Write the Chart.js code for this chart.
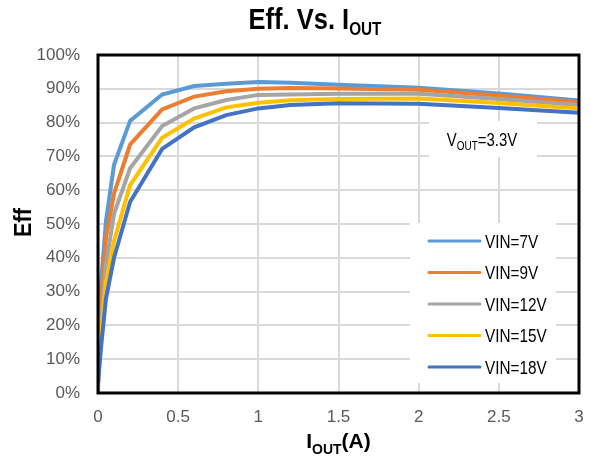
<!DOCTYPE html>
<html>
<head>
<meta charset="utf-8">
<script src="https://cdn.jsdelivr.net/npm/chart.js@4.4.1/dist/chart.umd.min.js"></script>
<style>
  html, body { margin: 0; padding: 0; background: #fff; }
  #wrap { width: 591px; height: 464px; position: relative; }
</style>
</head>
<body>
<div id="wrap"><canvas id="effChart" width="591" height="464"></canvas></div>
<script>
// dòng điện ra (A)
const iout = [0, 0.02, 0.05, 0.1, 0.2, 0.4, 0.6, 0.8, 1.0, 1.2, 1.5, 2.0, 2.5, 3.0];
// hiệu suất (%) theo từng VIN
const vin7 = [15, 33, 51, 67.5, 80.5, 88.3, 90.8, 91.5, 92, 91.8, 91.2, 90.3, 88.6, 86.5];
const vin9 = [10, 28, 46, 59, 73.5, 83.9, 87.7, 89.3, 90, 90.2, 90.1, 89.7, 88, 86];
const vin12 = [0, 22, 38, 53, 66.5, 79, 84.2, 86.7, 88.2, 88.3, 88.5, 88.5, 87, 85.2];
const vin15 = [5, 18, 33, 45, 61.5, 75.5, 81.2, 84.5, 85.9, 86.6, 87, 87.1, 85.8, 84.2];
const vin18 = [3, 14, 28, 40, 56.5, 72.2, 78.6, 82.2, 84.2, 85.2, 85.7, 85.6, 84.3, 82.9];
const seriesNames = ["VIN=7V", "VIN=9V", "VIN=12V", "VIN=15V", "VIN=18V"];
const seriesColors = ["#5B9BD5", "#ED7D31", "#A5A5A5", "#FFC000", "#4472C4"];
const xTicks = [0, 0.5, 1, 1.5, 2, 2.5, 3];

const SANS = '"Liberation Sans", Arial, sans-serif';

// ghép x và y thành điểm
function toPoints(ys) {
  return iout.map((x, i) => ({ x: x, y: ys[i] }));
}

// vẽ chữ có chỉ số dưới (I_OUT, V_OUT), sx = co chữ theo chiều ngang
function drawSub(ctx, parts, x, y, align, sx) {
  sx = sx || 1;
  let total = 0;
  parts.forEach(p => { ctx.font = p.font; total += ctx.measureText(p.t).width; });
  ctx.save();
  ctx.translate(align === "center" ? x - total * sx / 2 : x, y);
  ctx.scale(sx, 1);
  ctx.textAlign = "left";
  ctx.textBaseline = "alphabetic";
  let cx = 0;
  parts.forEach(p => {
    ctx.font = p.font;
    ctx.fillText(p.t, cx, p.dy || 0);
    cx += ctx.measureText(p.t).width;
  });
  ctx.restore();
}

const decorPlugin = {
  id: "decor",
  beforeDatasetsDraw(chart) {
    const ctx = chart.ctx;
    ctx.save();
    // hộp ghi chú VOUT
    ctx.fillStyle = "#fff";
    ctx.fillRect(429, 121, 108, 36);
    ctx.fillStyle = "#000";
    drawSub(ctx, [
      { t: "V", font: "18px " + SANS },
      { t: "OUT", font: "12px " + SANS, dy: 4 },
      { t: "=3.3V", font: "18px " + SANS }
    ], 482, 146, "center", 0.83);

    // legend tự vẽ ở góc dưới phải
    ctx.fillStyle = "#fff";
    ctx.fillRect(410, 223, 146, 160);
    chart.data.datasets.forEach((ds, i) => {
      const y = 241 + i * 31.5;
      ctx.strokeStyle = ds.borderColor;
      ctx.lineWidth = 3;
      ctx.lineCap = "round";
      ctx.beginPath();
      ctx.moveTo(429, y);
      ctx.lineTo(480, y);
      ctx.stroke();
      ctx.fillStyle = "#000";
      drawSub(ctx, [{ t: ds.label, font: "18px " + SANS }], 485, y + 6.5, "left", 0.85);
    });
    ctx.restore();
  },
  afterDraw(chart) {
    const ctx = chart.ctx;
    const a = chart.chartArea;
    ctx.save();
    // khung đen quanh vùng vẽ
    ctx.strokeStyle = "#000";
    ctx.lineWidth = 3;
    ctx.strokeRect(a.left, a.top, a.right - a.left, a.bottom - a.top);

    ctx.fillStyle = "#000";
    // tiêu đề
    drawSub(ctx, [
      { t: "Eff. Vs. I", font: "bold 30px " + SANS },
      { t: "OUT", font: "bold 18px " + SANS, dy: 6 }
    ], 315, 29, "center", 0.85);
    // tên trục x
    drawSub(ctx, [
      { t: "I", font: "bold 21px " + SANS },
      { t: "OUT", font: "bold 14px " + SANS, dy: 6 },
      { t: "(A)", font: "bold 21px " + SANS }
    ], (a.left + a.right) / 2, 448, "center", 1);
    // tên trục y
    ctx.translate(24, 222.5);
    ctx.rotate(-Math.PI / 2);
    ctx.scale(0.9, 1);
    ctx.font = "bold 24px " + SANS;
    ctx.textAlign = "center";
    ctx.textBaseline = "middle";
    ctx.fillText("Eff", 0, 0);
    ctx.restore();
  }
};

const allSeries = [vin7, vin9, vin12, vin15, vin18];

const ctx = document.getElementById("effChart").getContext("2d");
const myChart = new Chart(ctx, {
  type: "line",
  data: {
    datasets: allSeries.map((ys, i) => ({
      label: seriesNames[i],
      data: toPoints(ys),
      borderColor: seriesColors[i],
      backgroundColor: seriesColors[i],
      borderWidth: 4,
      pointRadius: 0,
      tension: 0,
      fill: false,
      order: allSeries.length - i
    }))
  },
  options: {
    responsive: false,
    animation: false,
    layout: { padding: { top: 55, right: 12, left: 0, bottom: 0 } },
    plugins: {
      legend: { display: false },
      title: { display: false },
      tooltip: { enabled: false }
    },
    scales: {
      x: {
        type: "linear",
        min: 0,
        max: 3,
        afterFit(scale) {
          scale.height = 71;
          // bỏ phần đệm tự thêm cho nhãn cuối
          scale.paddingLeft = 0;
          scale.paddingRight = 0;
        },
        afterBuildTicks(scale) { scale.ticks = xTicks.map(v => ({ value: v })); },
        grid: { color: "#d9d9d9", lineWidth: 2, drawTicks: false },
        border: { display: false },
        ticks: {
          color: "#595959",
          font: { family: SANS, size: 17 },
          padding: 14,
          maxRotation: 0,
          callback: v => String(v)
        }
      },
      y: {
        min: 0,
        max: 100,
        afterFit(scale) {
          scale.width = 98;
          scale.paddingTop = 0;
          scale.paddingBottom = 0;
        },
        grid: { color: "#d9d9d9", lineWidth: 2, drawTicks: false },
        border: { display: false },
        ticks: {
          stepSize: 10,
          color: "#595959",
          font: { family: SANS, size: 17 },
          padding: 18,
          callback: v => v + "%"
        }
      }
    }
  },
  plugins: [decorPlugin]
});
</script>
</body>
</html>
